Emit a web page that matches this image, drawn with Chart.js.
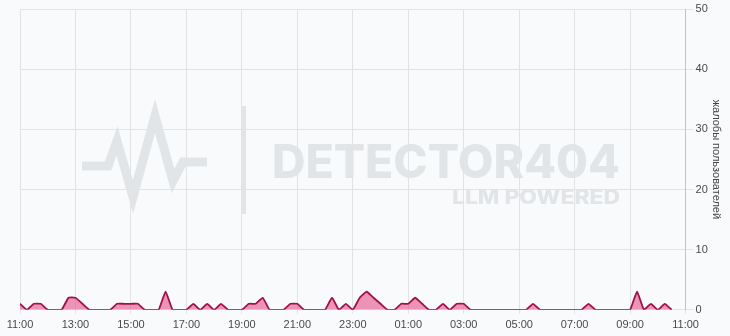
<!DOCTYPE html>
<html>
<head>
<meta charset="utf-8">
<script src="https://cdn.jsdelivr.net/npm/chart.js@4"></script>
<style>
  html, body { margin: 0; padding: 0; background: #f9fafb; }
  #wrap { width: 730px; height: 336px; }
</style>
</head>
<body>
<div id="wrap"><canvas id="c" width="730" height="336"></canvas></div>
<script>
// 15-minute steps starting at 11:00
const stepHours = 0.25;
const tickLabels = ['11:00','13:00','15:00','17:00','19:00','21:00','23:00','01:00','03:00','05:00','07:00','09:00','11:00'];
const complaints = [
  1,0,1,1,0,0,0,2,2,1,0,0,0,0,1,1,1,1,0,0,
  0,3,0,0,0,1,0,1,0,1,0,0,0,1,1,2,0,0,0,1,
  1,0,0,0,0,2,0,1,0,2,3,2,1,0,0,1,1,2,1,0,
  0,1,0,1,1,0,0,0,0,0,0,0,0,0,1,0,0,0,0,0,
  0,0,1,0,0,0,0,0,0,3,0,1,0,1,0
];
const yTitle = 'жалобы пользователей';
const wmTitle = 'DETECTOR404';
const wmSub = 'LLM POWERED';

const points = complaints.map((v, i) => ({ x: i * stepHours, y: v }));

const watermark = {
  id: 'watermark',
  beforeDraw(chart) {
    const ctx = chart.ctx;
    ctx.save();
    ctx.fillStyle = '#f9fafb';
    ctx.fillRect(0, 0, chart.width, chart.height);
    const col = '#e2e5e8';
    ctx.strokeStyle = col;
    ctx.fillStyle = col;
    ctx.lineWidth = 9;
    ctx.lineJoin = 'miter';
    ctx.beginPath();
    const pl = [[82,166],[108,166],[117,141],[133,197],[155,116],[173,181],[183,162],[207,162]];
    pl.forEach((p, i) => i ? ctx.lineTo(p[0], p[1]) : ctx.moveTo(p[0], p[1]));
    ctx.stroke();
    ctx.fillRect(242, 106, 4, 108);
    function fitText(t, font, x, y, w, align) {
      ctx.font = font;
      const m = ctx.measureText(t).width;
      const s = w / m;
      ctx.save();
      ctx.translate(align === 'right' ? x - w : x, y);
      ctx.scale(s, 1);
      ctx.textAlign = 'left';
      ctx.textBaseline = 'alphabetic';
      ctx.fillText(t, 0, 0);
      ctx.restore();
    }
    fitText(wmTitle, '800 46px Inter', 272, 178, 348, 'left');
    fitText(wmSub, '800 20px Inter', 620, 204, 168, 'right');
    ctx.restore();
  }
};

new Chart(document.getElementById('c'), {
  type: 'line',
  data: {
    datasets: [{
      data: points,
      borderColor: '#a0104a',
      backgroundColor: 'rgba(226, 80, 136, 0.6)',
      borderWidth: 1.8,
      fill: 'origin',
      pointRadius: 0,
      tension: 0.12
    }]
  },
  options: {
    responsive: false,
    animation: false,
    layout: { padding: { left: 20, top: 9, right: 1, bottom: -1 } },
    plugins: { legend: { display: false }, tooltip: { enabled: false } },
    scales: {
      x: {
        type: 'linear',
        min: 0,
        max: 24,
        ticks: {
          stepSize: 2,
          autoSkip: false,
          maxRotation: 0,
          padding: 5,
          color: '#4a4a4a',
          font: { size: 11, family: 'Liberation Sans' },
          callback: (v, i) => tickLabels[i]
        },
        grid: { color: '#e3e3e3', tickLength: 4 },
        border: { color: '#e3e3e3' }
      },
      y: {
        position: 'right',
        min: 0,
        max: 50,
        ticks: {
          stepSize: 10,
          padding: 2,
          color: '#4a4a4a',
          font: { size: 11, family: 'Liberation Sans' }
        },
        grid: { color: '#e3e3e3', tickLength: 8 },
        border: { color: '#c4c4c4' },
        title: {
          display: true,
          text: yTitle,
          color: '#444',
          padding: { top: 6, bottom: 0 },
          font: { size: 11, family: 'Liberation Sans' }
        }
      }
    }
  },
  plugins: [watermark]
});
</script>
</body>
</html>
